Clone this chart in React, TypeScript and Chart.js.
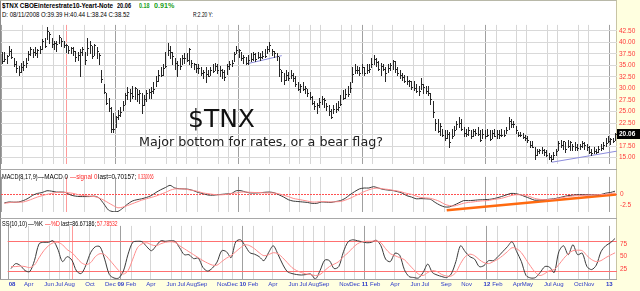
import React, { useEffect, useRef } from 'react';
import { Chart, registerables } from 'chart.js';

Chart.register(...registerables);

const FONT = '"Liberation Sans", Arial, Helvetica, sans-serif';
const BIG_FONT = '"DejaVu Sans", Verdana, sans-serif';

// ---------- data (weekly bars, first bar = week of 2008-02-01) ----------
const firstBarDate = '2008-02-01';

const highs = [
  37.9, 37.9, 37.3, 39.2, 38.6, 36.6, 35.9, 34.9, 35.6, 35.9,
  36.6, 38.2, 38.9, 38.6, 38.9, 38.6, 39.2, 40.6, 40.9, 43.2,
  42.2, 40.9, 40.2, 40.2, 41.6, 40.9, 40.2, 39.6, 39.2, 38.9,
  38.9, 38.2, 37.9, 38.6, 38.9, 37.9, 40.9, 40.2, 39.2, 39.6,
  38.9, 37.6, 33.9, 30.9, 28.9, 27.9, 26.0, 24.6, 24.0, 25.3,
  25.9, 27.3, 28.9, 30.3, 29.9, 30.6, 30.3, 29.9, 29.6, 28.9,
  28.6, 29.6, 29.9, 30.3, 31.3, 32.6, 33.9, 34.6, 35.3, 37.9,
  39.9, 39.2, 37.9, 36.6, 35.9, 36.6, 37.2, 37.6, 37.6, 38.7,
  36.2, 35.6, 35.2, 35.2, 34.6, 33.9, 34.6, 33.9, 34.6, 35.2,
  35.6, 35.2, 34.9, 34.3, 33.9, 35.2, 35.9, 36.2, 37.9, 39.2,
  38.6, 37.9, 37.2, 36.9, 37.2, 37.6, 37.9, 37.6, 37.9, 37.6,
  38.2, 38.6, 39.2, 40.0, 38.6, 38.2, 37.6, 36.9, 33.9, 33.3,
  33.9, 33.6, 33.9, 33.3, 32.6, 31.3, 30.9, 31.3, 30.6, 29.9,
  29.3, 28.3, 27.3, 26.9, 27.9, 28.3, 27.9, 26.9, 26.3, 25.6,
  26.3, 26.9, 27.3, 28.6, 29.6, 29.9, 30.6, 31.3, 34.6, 35.2,
  34.9, 34.6, 35.2, 34.6, 35.2, 35.2, 36.6, 37.2, 36.6, 35.9,
  35.6, 35.2, 34.6, 35.2, 35.6, 36.2, 35.9, 34.6, 33.9, 33.3,
  32.9, 32.6, 31.9, 31.6, 31.6, 30.9, 30.6, 32.3, 30.9, 30.6,
  30.6, 28.9, 27.3, 23.3, 23.3, 22.6, 21.3, 20.9, 20.9, 20.6,
  21.3, 21.9, 22.9, 23.9, 23.3, 21.6, 21.3, 21.6, 20.9, 21.3,
  21.3, 21.6, 20.9, 21.3, 20.9, 21.3, 20.9, 20.9, 21.3, 20.9,
  20.9, 21.3, 20.9, 21.6, 23.9, 23.3, 22.9, 21.9, 20.6, 20.6,
  20.3, 19.9, 19.6, 18.6, 18.6, 17.3, 16.9, 16.9, 17.3, 16.9,
  16.6, 15.9, 15.6, 16.3, 16.9, 18.6, 18.9, 18.6, 18.3, 18.9,
  18.6, 17.9, 18.3, 17.9, 17.9, 18.6, 18.3, 17.9, 17.6, 16.9,
  17.3, 16.9, 17.6, 17.9, 18.3, 19.3, 19.6, 19.3, 19.3, 20.3,
];

const lows = [
  35.6, 35.9, 35.6, 37.2, 36.6, 34.9, 33.6, 32.9, 33.6, 33.9,
  34.6, 36.2, 37.2, 36.9, 37.2, 36.9, 37.6, 38.6, 38.9, 40.6,
  39.9, 38.9, 38.6, 38.2, 39.9, 39.2, 38.9, 37.9, 37.6, 37.6,
  37.2, 35.9, 36.2, 32.6, 37.2, 35.2, 37.2, 37.6, 36.6, 37.2,
  36.6, 35.2, 31.3, 28.9, 26.6, 25.0, 20.6, 20.6, 21.6, 23.3,
  24.0, 25.3, 26.6, 27.6, 27.3, 27.9, 27.6, 27.3, 26.9, 24.6,
  26.3, 27.3, 27.9, 27.9, 28.9, 30.6, 31.6, 32.6, 32.9, 34.6,
  37.2, 36.6, 35.2, 34.3, 32.6, 34.3, 35.2, 35.6, 35.9, 35.2,
  34.6, 34.3, 33.6, 33.3, 32.9, 32.3, 31.3, 32.6, 32.9, 33.6,
  33.9, 33.3, 32.6, 32.3, 31.9, 33.2, 34.3, 34.9, 35.9, 37.6,
  36.9, 36.2, 35.6, 35.2, 35.2, 35.9, 36.2, 35.9, 36.6, 36.2,
  36.6, 36.9, 37.6, 38.2, 37.2, 36.9, 36.2, 32.6, 31.6, 30.9,
  31.9, 31.9, 32.3, 31.6, 30.6, 29.6, 29.3, 29.6, 28.9, 28.3,
  27.6, 26.6, 25.6, 24.6, 25.9, 26.6, 25.9, 25.3, 24.3, 23.6,
  24.6, 24.9, 25.3, 26.3, 27.6, 27.9, 28.3, 29.3, 31.3, 33.3,
  33.3, 32.9, 33.3, 32.9, 33.3, 33.6, 34.6, 35.2, 34.9, 33.9,
  32.9, 33.9, 31.6, 33.6, 33.9, 34.3, 33.6, 32.9, 32.3, 31.9,
  31.3, 30.9, 30.6, 29.9, 29.6, 29.3, 28.6, 29.9, 28.9, 28.9,
  28.6, 26.6, 23.9, 20.9, 20.6, 19.9, 19.6, 18.9, 19.3, 17.3,
  19.3, 19.9, 21.3, 21.6, 20.9, 19.6, 19.6, 19.9, 19.3, 19.6,
  19.9, 19.9, 18.6, 19.3, 19.3, 19.6, 18.9, 19.3, 19.6, 19.3,
  19.3, 19.6, 19.6, 20.3, 21.3, 21.6, 21.6, 20.3, 19.6, 19.6,
  19.3, 18.9, 18.3, 17.3, 17.3, 14.6, 15.6, 15.9, 15.9, 15.6,
  15.3, 14.6, 14.2, 14.6, 15.6, 16.6, 17.3, 16.9, 16.3, 17.3,
  16.6, 16.6, 16.6, 16.6, 16.9, 17.3, 16.9, 16.6, 15.9, 15.6,
  15.9, 15.9, 16.3, 16.6, 16.9, 17.6, 18.3, 17.9, 18.3, 18.9,
];

const closes = [
  36.0, 36.4, 37.0, 38.0, 36.8, 35.3, 34.4, 33.5, 34.6, 35.0,
  35.4, 37.4, 38.5, 37.8, 37.7, 38.3, 38.5, 40.3, 39.2, 42.5,
  41.7, 39.7, 39.8, 39.6, 41.1, 40.2, 39.4, 39.4, 38.4, 38.7,
  38.2, 36.8, 37.2, 37.8, 38.5, 36.1, 38.7, 39.3, 37.0, 39.5,
  38.2, 37.2, 32.0, 29.3, 26.9, 25.8, 21.3, 21.3, 23.9, 24.3,
  24.8, 26.3, 28.5, 29.2, 28.9, 28.3, 30.0, 28.8, 28.9, 26.4,
  27.6, 29.1, 29.2, 29.5, 29.9, 31.6, 32.9, 32.9, 34.5, 34.8,
  38.3, 37.9, 37.0, 35.4, 35.0, 34.8, 36.5, 36.6, 36.1, 38.5,
  35.6, 35.2, 34.5, 34.4, 33.4, 33.5, 33.2, 32.7, 33.9, 33.8,
  34.9, 33.9, 34.0, 33.5, 32.4, 34.8, 35.2, 35.6, 37.5, 38.4,
  38.3, 36.6, 36.7, 35.6, 36.2, 36.4, 37.4, 36.4, 36.7, 36.9,
  37.1, 37.0, 38.5, 39.5, 38.2, 37.7, 37.0, 34.2, 33.5, 31.9,
  32.9, 32.2, 33.0, 32.3, 30.9, 29.8, 30.6, 29.8, 30.0, 29.1,
  28.2, 26.8, 26.1, 26.5, 27.0, 27.8, 27.4, 26.1, 25.1, 23.9,
  25.6, 25.5, 26.0, 26.6, 27.9, 28.7, 28.7, 30.1, 33.2, 33.9,
  33.9, 33.3, 34.6, 33.3, 33.9, 34.1, 35.2, 36.4, 35.8, 34.2,
  34.9, 34.3, 33.3, 34.5, 35.0, 35.9, 34.1, 33.4, 32.9, 32.4,
  31.6, 31.6, 31.5, 30.2, 30.0, 29.4, 29.4, 30.9, 30.2, 29.4,
  29.1, 27.6, 24.8, 22.4, 20.7, 21.9, 19.9, 19.3, 20.1, 18.3,
  19.6, 21.0, 22.3, 22.6, 21.2, 20.4, 20.1, 20.9, 19.6, 20.8,
  20.4, 20.1, 18.9, 20.2, 19.6, 19.9, 19.1, 20.3, 19.6, 20.2,
  19.9, 20.0, 19.9, 21.0, 23.0, 22.2, 22.2, 21.0, 19.9, 19.9,
  19.4, 19.3, 18.8, 17.8, 17.4, 15.5, 16.4, 16.7, 16.6, 16.2,
  15.5, 15.1, 14.6, 15.5, 16.4, 18.1, 17.7, 18.5, 16.8, 17.5,
  18.4, 17.5, 17.3, 17.0, 17.5, 18.2, 17.7, 17.2, 16.3, 15.9,
  16.4, 16.2, 16.9, 17.0, 17.7, 18.1, 18.5, 19.0, 18.7, 20.06,
];

// indicators, one value every second weekly bar (bars 1, 3, 5, ...)
const macdLine = [
  -1.9, -1.7, -1.75, -1.7, -1.4, -0.9, -0.2, 0.2, 0.4, 0.8,
  0.7, 0.5, 0.5, 0.4, -0.15, -0.4, -0.5, -0.5, -0.5, -0.4,
  -0.8, -2.1, -3.5, -3.85, -3.8, -3.1, -2.2, -1.5, -1.2, -1.0,
  -0.7, -0.3, 0.4, 1.0, 1.5, 2.0, 1.4, 1.25, 1.2, 1.1,
  0.8, 0.4, 0.15, -0.15, -0.2, -0.1, 0, 0.1, 0.2, 0.8,
  0.8, 0.5, 0.3, 0.3, 0.35, 0.45, 0.5, 0.35, -0.1, -0.6,
  -1.2, -1.5, -1.6, -1.7, -1.8, -2.0, -2.0, -1.7, -1.75, -1.8,
  -1.6, -1.4, -0.9, -0.1, 0.6, 1.2, 1.4, 1.4, 1.7, 1.4,
  1.1, 0.95, 0.85, 0.6, 0.3, -0.3, -0.6, -1.0, -0.95, -1.0,
  -1.1, -1.8, -2.4, -2.8, -2.8, -2.4, -1.9, -1.4, -1.4, -1.35,
  -1.25, -1.2, -1.15, -1.05, -0.8, -0.5, -0.15, 0.2, 0.15, -0.1,
  -0.5, -0.9, -1.3, -1.25, -1.2, -1.1, -1.0, -0.8, -0.55, -0.3,
  -0.2, -0.1, -0.1, -0.1, -0.1, -0.1, -0.05, 0.25, 0.4, 0.7,
];

const macdSignal = [
  -2.0, -1.85, -1.75, -1.75, -1.7, -1.4, -1.0, -0.6, -0.3, 0,
  0.2, 0.4, 0.45, 0.4, 0.3, 0.1, -0.2, -0.3, -0.4, -0.5,
  -0.8, -1.3, -1.9, -2.5, -3.0, -2.85, -2.5, -2.1, -1.7, -1.3,
  -1.0, -0.7, -0.4, 0, 0.4, 0.9, 1.2, 1.2, 1.2, 1.0,
  0.85, 0.6, 0.3, 0.15, 0, -0.1, -0.1, 0, 0.2, 0.3,
  0.5, 0.5, 0.45, 0.4, 0.4, 0.3, 0.3, 0.3, 0.1, -0.2,
  -0.5, -0.9, -1.1, -1.3, -1.5, -1.7, -1.7, -1.6, -1.65, -1.7,
  -1.65, -1.6, -1.3, -0.9, -0.4, 0.1, 0.6, 1.0, 1.3, 1.4,
  1.2, 1.1, 0.9, 0.75, 0.5, 0.2, 0, -0.4, -0.7, -0.8,
  -0.9, -1.2, -1.6, -2.2, -2.5, -2.6, -2.3, -2.0, -1.8, -1.7,
  -1.55, -1.45, -1.4, -1.2, -1.05, -0.9, -0.6, -0.3, -0.1, -0.1,
  -0.2, -0.5, -0.9, -1.1, -1.2, -1.15, -1.1, -0.9, -0.7, -0.5,
  -0.4, -0.3, -0.25, -0.2, -0.15, -0.1, -0.05, 0, 0.15, 0.32,
];

const ssK = [
  26, 36, 32, 22, 20, 42, 76, 79, 79, 82,
  65, 40, 50, 43, 21, 16, 33, 58, 70, 70,
  45, 14, 7, 7, 21, 55, 79, 81, 80, 70,
  62, 72, 82, 81, 82, 81, 68, 54, 54, 46,
  47, 28, 21, 27, 39, 62, 60, 48, 80, 84,
  72, 58, 55, 50, 42, 58, 72, 55, 35, 20,
  16, 14, 13, 14, 15, 5, 22, 43, 42, 26,
  30, 60, 80, 84, 82, 80, 78, 79, 83, 72,
  45, 40, 57, 53, 24, 10, 8, 7, 18, 35,
  18, 13, 10, 8, 15, 40, 72, 60, 50, 45,
  30, 32, 42, 42, 50, 60, 70, 80, 60, 40,
  12, 7, 8, 18, 30, 29, 18, 60, 72, 54,
  74, 54, 57, 30, 24, 33, 60, 72, 78, 86.7,
];

const ssD = [
  30, 30, 31, 30, 28, 33, 48, 62, 72, 78,
  79, 74, 64, 58, 48, 38, 34, 38, 50, 56,
  54, 44, 33, 22, 15, 22, 45, 68, 76, 78,
  74, 72, 76, 79, 80, 79, 72, 66, 60, 54,
  48, 42, 37, 33, 33, 40, 47, 52, 60, 68,
  74, 72, 66, 58, 52, 54, 58, 56, 48, 38,
  28, 22, 18, 15, 14, 12, 14, 22, 30, 35,
  40, 50, 58, 68, 76, 80, 81, 81, 82, 78,
  66, 56, 52, 48, 44, 34, 24, 15, 12, 18,
  22, 20, 14, 11, 11, 18, 36, 50, 55, 52,
  44, 38, 36, 40, 45, 52, 60, 68, 66, 58,
  44, 30, 18, 12, 16, 22, 24, 34, 46, 56,
  62, 63, 62, 52, 44, 40, 42, 48, 53, 57.8,
];

// hand-drawn trend lines (bar index, value)
const priceTrend2010 = [{ x: 104.1, y: 35.4 }, { x: 118.2, y: 37.1 }];
const priceTrend2012 = [{ x: 232.2, y: 14.0 }, { x: 259.7, y: 16.4 }];
const macdTrend = [{ x: 187.9, y: -3.55 }, { x: 259.4, y: -0.05 }];

// time axis
const tickLabels = [
  '08', 'Apr', 'Jun', 'Jul', 'Aug', 'Oct', 'Dec',
  '09', 'Feb', 'Apr', 'Jun', 'Jul', 'Aug', 'Sep', 'Nov', 'Dec',
  '10', 'Feb', 'Apr', 'Jun', 'Jul', 'Aug', 'Sep', 'Nov', 'Dec',
  '11', 'Feb', 'Apr', 'Jun', 'Jul', 'Sep', 'Nov',
  '12', 'Feb', 'Apr', 'May', 'Jul', 'Aug', 'Oct', 'Nov',
  '13',
];
const tickDates = [
  '2008-02-01', '2008-04-01', '2008-06-01', '2008-07-01', '2008-08-01', '2008-10-01', '2008-12-01',
  '2009-01-01', '2009-02-01', '2009-04-01', '2009-06-01', '2009-07-01', '2009-08-01', '2009-09-01', '2009-11-01', '2009-12-01',
  '2010-01-01', '2010-02-01', '2010-04-01', '2010-06-01', '2010-07-01', '2010-08-01', '2010-09-01', '2010-11-01', '2010-12-01',
  '2011-01-01', '2011-02-01', '2011-04-01', '2011-06-01', '2011-07-01', '2011-09-01', '2011-11-01',
  '2012-01-01', '2012-02-01', '2012-04-01', '2012-05-01', '2012-07-01', '2012-08-01', '2012-10-01', '2012-11-01',
  '2013-01-01',
];
const cursorDate = '2008-08-11';

const priceTicks = [15, 17.5, 20, 22.5, 25, 27.5, 30, 32.5, 35, 37.5, 40, 42.5];
const macdTicks = [-2.5, 0];
const ssTicks = [20, 25, 50, 75, 80];
const ssTickLabels = [25, 50, 75];
const ssSignalLevels = [20, 80];
const lastPrice = 20.06;

// ---------- helpers ----------
const WEEK_MS = 7 * 86400000;
const startMs = Date.parse(firstBarDate + 'T00:00:00Z');
const idxOf = (d: string) => (Date.parse(d + 'T00:00:00Z') - startMs) / WEEK_MS;
const X_MIN = -0.42;
const X_MAX = 259.83;

const tickIdx = tickDates.map(idxOf);
const allTicks = [...tickIdx, idxOf(cursorDate)];
const isYear = (i: number) => i < tickLabels.length && /^\d+$/.test(tickLabels[i]);

const indicatorPoints = (vals: number[]) => vals.map((v, j) => ({ x: 2 * j + 1, y: v }));

function xAxis(showLabels: boolean) {
  return {
    type: 'linear',
    min: X_MIN,
    max: X_MAX,
    afterBuildTicks: (s: any) => {
      s.ticks = allTicks.map((v) => ({ value: v }));
    },
    afterFit: (s: any) => {
      s.height = showLabels ? 12 : 0;
    },
    grid: {
      drawTicks: false,
      lineWidth: 1,
      color: (c: any) =>
        c.index === allTicks.length - 1 ? '#ff9a9a' : isYear(c.index) ? '#a0a0a0' : '#d6d6d6',
    },
    border: { display: false },
    ticks: {
      display: showLabels,
      autoSkip: false,
      maxRotation: 0,
      minRotation: 0,
      padding: 2,
      color: '#2a38c8',
      font: (c: any) => ({ family: FONT, size: 6, weight: isYear(c.index) ? 'bold' : 'normal' }),
      callback: (_v: any, i: number) => (i === 0 ? '    ' + tickLabels[0] : tickLabels[i] ?? ''),
    },
  };
}

function yAxisBase(min: number, max: number, ticks: number[]) {
  return {
    position: 'right',
    min,
    max,
    afterBuildTicks: (s: any) => {
      s.ticks = ticks.map((v) => ({ value: v }));
    },
    afterFit: (s: any) => {
      s.width = 23;
    },
    border: { display: false },
  };
}

const ohlcPlugin = {
  id: 'ohlcBars',
  afterDatasetsDraw(chart: any) {
    const { ctx } = chart;
    const xs = chart.scales.x;
    const ys = chart.scales.y;
    ctx.save();
    ctx.strokeStyle = '#262626';
    ctx.lineWidth = 1;
    ctx.beginPath();
    for (let i = 0; i < closes.length; i++) {
      const px = Math.round(xs.getPixelForValue(i)) + 0.5;
      const yh = Math.round(ys.getPixelForValue(highs[i]));
      const yl = Math.round(ys.getPixelForValue(lows[i]));
      ctx.moveTo(px, yh);
      ctx.lineTo(px, yl + 1);
      const yc = Math.round(ys.getPixelForValue(closes[i])) + 0.5;
      ctx.moveTo(px + 0.5, yc);
      ctx.lineTo(px + 1.5, yc);
    }
    ctx.stroke();
    // last price tag
    const yt = ys.getPixelForValue(lastPrice);
    const left = chart.chartArea.right;
    ctx.fillStyle = '#000';
    ctx.fillRect(left, Math.round(yt - 5), 23, 10);
    ctx.fillStyle = '#fff';
    ctx.font = `bold 6.5px ${FONT}`;
    ctx.textBaseline = 'middle';
    ctx.textAlign = 'left';
    ctx.fillText(lastPrice.toFixed(2), left + 2, yt);
    ctx.restore();
  },
};

const redTick = '#ff3a3a';

function priceConfig(): any {
  return {
    type: 'line',
    data: {
      datasets: [
        {
          label: 'Close',
          data: closes.map((c, i) => ({ x: i, y: c })),
          showLine: false,
          pointRadius: 0,
        },
        { label: 'trend 2010', data: priceTrend2010, borderColor: '#8c8cdc', borderWidth: 1, pointRadius: 0 },
        { label: 'trend 2012', data: priceTrend2012, borderColor: '#8c8cdc', borderWidth: 1, pointRadius: 0 },
      ],
    },
    options: {
      animation: false,
      responsive: false,
      devicePixelRatio: 1,
      layout: { padding: { left: 1, right: 0, top: 0, bottom: 0 } },
      plugins: { legend: { display: false }, tooltip: { enabled: false } },
      scales: {
        x: xAxis(false),
        y: {
          ...yAxisBase(13.6, 43.76, priceTicks),
          grid: { drawTicks: false, color: '#d9d9d9' },
          ticks: {
            color: redTick,
            padding: 2,
            font: { family: FONT, size: 6.5 },
            callback: (v: any) => (v === 20 ? '' : Number(v).toFixed(2)),
          },
        },
      },
    },
    plugins: [ohlcPlugin],
  };
}

function macdConfig(): any {
  return {
    type: 'line',
    data: {
      datasets: [
        { label: 'signal', data: indicatorPoints(macdSignal), borderColor: '#ff8c8c', borderWidth: 1, pointRadius: 0, tension: 0.25 },
        { label: 'MACD', data: indicatorPoints(macdLine), borderColor: '#3a3a3a', borderWidth: 1, pointRadius: 0, tension: 0.25 },
        { label: 'trend', data: macdTrend, borderColor: '#ff6a10', borderWidth: 2.5, pointRadius: 0 },
      ],
    },
    options: {
      animation: false,
      responsive: false,
      devicePixelRatio: 1,
      layout: { padding: { left: 1, right: 0, top: 0, bottom: 0 } },
      plugins: { legend: { display: false }, tooltip: { enabled: false } },
      scales: {
        x: xAxis(false),
        y: {
          ...yAxisBase(-3.95, 3.87, macdTicks),
          border: { display: false, dash: [2, 1] },
          grid: { drawTicks: false, color: (c: any) => (c.tick && c.tick.value === 0 ? '#ff5050' : 'rgba(0,0,0,0)') },
          ticks: {
            color: redTick,
            padding: 3,
            font: { family: FONT, size: 6.5 },
            callback: (v: any) => String(v),
          },
        },
      },
    },
  };
}

function ssConfig(): any {
  return {
    type: 'line',
    data: {
      datasets: [
        { label: '%D', data: indicatorPoints(ssD), borderColor: '#ff8c8c', borderWidth: 1, pointRadius: 0, tension: 0.3 },
        { label: '%K', data: indicatorPoints(ssK), borderColor: '#3a3a3a', borderWidth: 1, pointRadius: 0, tension: 0.3 },
      ],
    },
    options: {
      animation: false,
      responsive: false,
      devicePixelRatio: 1,
      layout: { padding: { left: 1, right: 0, top: 0, bottom: 0 } },
      plugins: { legend: { display: false }, tooltip: { enabled: false } },
      scales: {
        x: xAxis(true),
        y: {
          ...yAxisBase(5, 112, ssTicks),
          grid: {
            drawTicks: false,
            color: (c: any) => (c.tick && ssSignalLevels.includes(c.tick.value) ? '#ff7070' : 'rgba(0,0,0,0)'),
          },
          ticks: {
            color: redTick,
            padding: 3,
            font: { family: FONT, size: 6.5 },
            callback: (v: any) => (ssTickLabels.includes(v) ? String(v) : ''),
          },
        },
      },
    },
  };
}

// ---------- text helper ----------
let measureCtx: CanvasRenderingContext2D | null = null;
function textWidth(text: string, font: string) {
  if (!measureCtx) measureCtx = document.createElement('canvas').getContext('2d');
  if (!measureCtx) return 0;
  measureCtx.font = font;
  return measureCtx.measureText(text).width;
}

type FitProps = { x: number; base: number; w: number; size: number; color?: string; bold?: boolean; family?: string; text: string };
function FitText({ x, base, w, size, color = '#000', bold = false, family = FONT, text }: FitProps) {
  const mw = textWidth(text, `${bold ? 'bold ' : ''}${size}px ${family}`) || w;
  return (
    <div
      style={{
        position: 'absolute',
        left: x,
        top: base - 0.846 * size,
        fontFamily: family,
        fontSize: size,
        fontWeight: bold ? 'bold' : 'normal',
        lineHeight: `${size}px`,
        height: size,
        color,
        whiteSpace: 'pre',
        transform: `scaleX(${w / mw})`,
        transformOrigin: '0 0',
      }}
    >
      {text}
    </div>
  );
}

const GREEN = '#18a018';
const RED = '#ff2828';

export default function App() {
  const priceRef = useRef<HTMLCanvasElement>(null);
  const macdRef = useRef<HTMLCanvasElement>(null);
  const ssRef = useRef<HTMLCanvasElement>(null);

  useEffect(() => {
    Chart.defaults.font.family = FONT;
    const charts = [
      new Chart(priceRef.current as HTMLCanvasElement, priceConfig()),
      new Chart(macdRef.current as HTMLCanvasElement, macdConfig()),
      new Chart(ssRef.current as HTMLCanvasElement, ssConfig()),
    ];
    return () => charts.forEach((c) => c.destroy());
  }, []);

  const line = (top: number, color: string) => (
    <div style={{ position: 'absolute', left: 0, top, width: 617, height: 1, background: color }} />
  );

  return (
    <div style={{ position: 'fixed', left: 0, top: 0, width: 640, height: 291, background: '#ffffe0', overflow: 'hidden' }}>
      <div
        style={{
          position: 'absolute', left: 0, top: 0, width: 617, height: 280, boxSizing: 'border-box',
          background: '#fff', borderTop: '1px solid #b8b8a8', borderLeft: '1px solid #8c8c8c', borderRight: '1px solid #c8c4a4',
        }}
      />
      <canvas ref={priceRef} width={640} height={151} style={{ position: 'absolute', left: 0, top: 19, width: 640, height: 151 }} />
      <canvas ref={macdRef} width={640} height={49} style={{ position: 'absolute', left: 0, top: 170, width: 640, height: 49 }} />
      <canvas ref={ssRef} width={640} height={72} style={{ position: 'absolute', left: 0, top: 219, width: 640, height: 72 }} />
      {line(169, '#a8a8a8')}
      {line(218, '#a8a8a8')}
      {line(279, '#a0a0a0')}

      {/* header */}
      <FitText x={1.5} base={8.3} w={111} size={7.5} bold text="$TNX CBOEinterestrate10-Yeart-Note" />
      <FitText x={116.7} base={8.3} w={14} size={7.5} bold text="20.06" />
      <FitText x={139.3} base={8.3} w={10.5} size={7.5} bold color={GREEN} text="0.18" />
      <FitText x={154} base={8.3} w={20.3} size={7.5} bold color={GREEN} text="0.91%" />
      <FitText x={1.7} base={16.5} w={127.6} size={7} text="D: 08/11/2008 O:39.39 H:40.44 L:38.24 C:38.52" />
      <FitText x={192.7} base={16.5} w={20} size={7} text="R:2.20 Y:" />

      {/* annotation */}
      <FitText x={188.3} base={127} w={67} size={24} family={BIG_FONT} color="#111" text="$TNX" />
      <FitText x={139.3} base={146.7} w={244} size={11.5} family={BIG_FONT} color="#222" text="Major bottom for rates, or a bear flag?" />

      {/* MACD legend */}
      <FitText x={1.7} base={179} w={35.6} size={6.5} text="MACD(8,17,9)" />
      <FitText x={38.3} base={179} w={30} size={6.5} text="—MACD 0" />
      <FitText x={70} base={179} w={27.3} size={6.5} color={RED} text="—signal 0" />
      <FitText x={98.3} base={179} w={38.4} size={6.5} text="last=0.70157;" />
      <FitText x={137.7} base={179} w={15.6} size={6.5} color={RED} text="0.320066" />

      {/* SS legend */}
      <FitText x={1.7} base={226.7} w={25} size={6.5} text="SS(10,10)" />
      <FitText x={28.3} base={226.7} w={15} size={6.5} text="—%K" />
      <FitText x={45} base={226.7} w={15} size={6.5} color={RED} text="—%D" />
      <FitText x={61} base={226.7} w={35} size={6.5} text="last=86.67186;" />
      <FitText x={96.7} base={226.7} w={20.6} size={6.5} color={RED} text="57.78532" />
    </div>
  );
}
